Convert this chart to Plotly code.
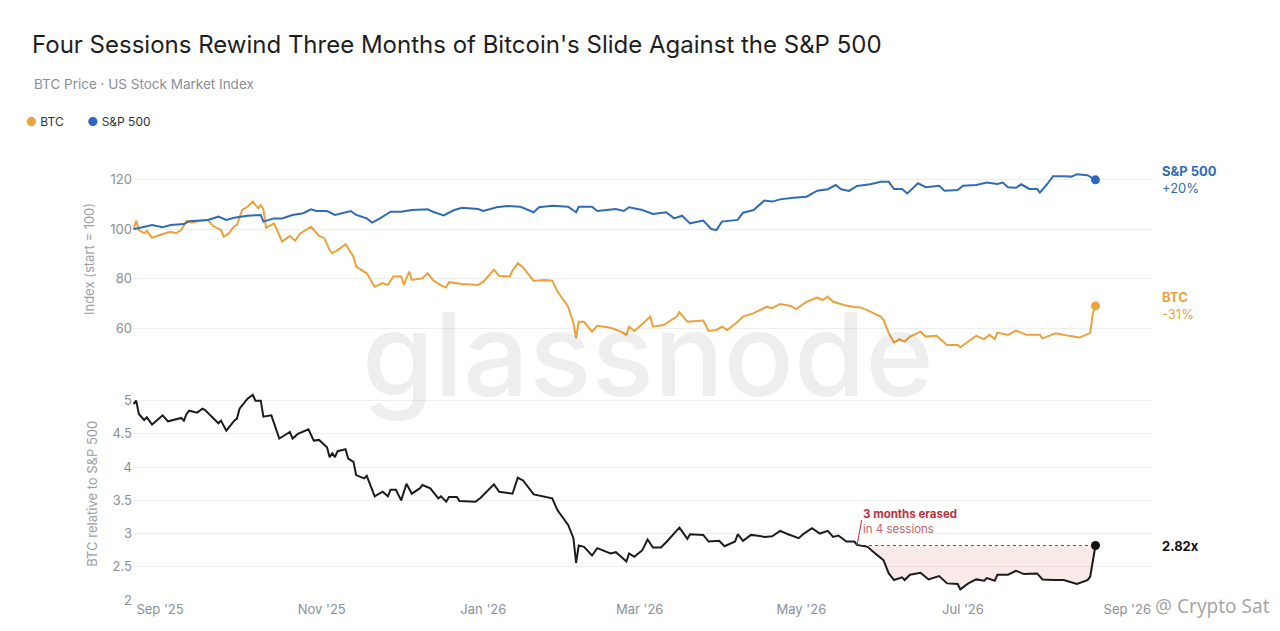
import pandas as pd
import plotly.graph_objects as go

# S&P 500, index (start = 100)
spx_dates = [
    "2025-08-22", "2025-08-26", "2025-08-29", "2025-09-02", "2025-09-05", "2025-09-10", "2025-09-12",
    "2025-09-19", "2025-09-23", "2025-09-26", "2025-09-29", "2025-10-04", "2025-10-09", "2025-10-10",
    "2025-10-14", "2025-10-17", "2025-10-21", "2025-10-25", "2025-10-28", "2025-10-30", "2025-11-03",
    "2025-11-06", "2025-11-12", "2025-11-14", "2025-11-18", "2025-11-20", "2025-11-23", "2025-11-27",
    "2025-12-01", "2025-12-05", "2025-12-11", "2025-12-13", "2025-12-17", "2025-12-21", "2025-12-24",
    "2025-12-30", "2026-01-01", "2026-01-06", "2026-01-10", "2026-01-15", "2026-01-20", "2026-01-22",
    "2026-01-27", "2026-02-02", "2026-02-05", "2026-02-06", "2026-02-11", "2026-02-13", "2026-02-18",
    "2026-02-20", "2026-02-23", "2026-02-25", "2026-03-02", "2026-03-06", "2026-03-11", "2026-03-14",
    "2026-03-17", "2026-03-20", "2026-03-25", "2026-03-28", "2026-03-30", "2026-04-01", "2026-04-07",
    "2026-04-09", "2026-04-13", "2026-04-17", "2026-04-20", "2026-04-23", "2026-04-28", "2026-05-03",
    "2026-05-07", "2026-05-11", "2026-05-14", "2026-05-16", "2026-05-19", "2026-05-22", "2026-05-27",
    "2026-05-31", "2026-06-03", "2026-06-05", "2026-06-08", "2026-06-10", "2026-06-14", "2026-06-17",
    "2026-06-22", "2026-06-24", "2026-06-29", "2026-07-01", "2026-07-06", "2026-07-10", "2026-07-14",
    "2026-07-16", "2026-07-18", "2026-07-21", "2026-07-23", "2026-07-26", "2026-07-29", "2026-07-30",
    "2026-08-02", "2026-08-04", "2026-08-08", "2026-08-11", "2026-08-13", "2026-08-17", "2026-08-20",
]
spx_values = [
    100.0, 101.0, 101.7, 100.8, 101.7, 102.1, 103.3,
    103.8, 105.1, 103.8, 104.7, 105.5, 105.8, 103.1,
    104.4, 104.4, 105.8, 106.5, 108.1, 107.4, 107.4,
    105.8, 107.4, 105.8, 104.4, 102.7, 104.4, 107.1,
    107.1, 107.8, 108.1, 107.1, 105.6, 107.8, 108.7,
    108.2, 107.4, 108.9, 109.4, 109.1, 106.9, 108.9,
    109.5, 109.1, 106.9, 109.1, 109.1, 107.4, 107.8,
    108.2, 107.4, 108.9, 107.8, 106.2, 106.9, 104.4,
    105.5, 102.4, 103.5, 100.1, 99.7, 103.1, 103.8,
    106.7, 107.8, 111.6, 111.2, 112.1, 112.8, 113.2,
    115.6, 116.2, 117.9, 116.2, 115.5, 117.5, 118.2,
    119.2, 119.2, 116.3, 116.3, 114.5, 118.6, 117.0,
    117.6, 115.6, 115.9, 117.6, 117.9, 118.9, 118.3,
    118.9, 117.0, 116.8, 118.2, 116.3, 116.3, 114.8,
    118.6, 121.5, 121.5, 121.3, 122.3, 121.9, 120.0,
]

# BTC, index (start = 100)
btc_dates = [
    "2025-08-22", "2025-08-23", "2025-08-24", "2025-08-26", "2025-08-27", "2025-08-29", "2025-09-02",
    "2025-09-05", "2025-09-07", "2025-09-09", "2025-09-11", "2025-09-13", "2025-09-16", "2025-09-19",
    "2025-09-21", "2025-09-24", "2025-09-25", "2025-09-27", "2025-09-29", "2025-09-30", "2025-10-02",
    "2025-10-04", "2025-10-06", "2025-10-08", "2025-10-09", "2025-10-10", "2025-10-11", "2025-10-14",
    "2025-10-16", "2025-10-17", "2025-10-20", "2025-10-21", "2025-10-22", "2025-10-24", "2025-10-28",
    "2025-10-31", "2025-11-02", "2025-11-04", "2025-11-05", "2025-11-07", "2025-11-10", "2025-11-13",
    "2025-11-14", "2025-11-18", "2025-11-21", "2025-11-24", "2025-11-26", "2025-11-28", "2025-12-01",
    "2025-12-02", "2025-12-04", "2025-12-05", "2025-12-09", "2025-12-11", "2025-12-13", "2025-12-16",
    "2025-12-18", "2025-12-19", "2025-12-24", "2025-12-30", "2026-01-01", "2026-01-05", "2026-01-07",
    "2026-01-11", "2026-01-12", "2026-01-14", "2026-01-16", "2026-01-20", "2026-01-24", "2026-01-27",
    "2026-01-29", "2026-02-02", "2026-02-04", "2026-02-05", "2026-02-06", "2026-02-08", "2026-02-11",
    "2026-02-13", "2026-02-18", "2026-02-22", "2026-02-24", "2026-02-25", "2026-02-27", "2026-03-02",
    "2026-03-05", "2026-03-06", "2026-03-10", "2026-03-15", "2026-03-16", "2026-03-19", "2026-03-25",
    "2026-03-27", "2026-03-30", "2026-04-01", "2026-04-03", "2026-04-07", "2026-04-09", "2026-04-13",
    "2026-04-18", "2026-04-20", "2026-04-23", "2026-04-27", "2026-04-29", "2026-05-03", "2026-05-07",
    "2026-05-09", "2026-05-11", "2026-05-13", "2026-05-17", "2026-05-21", "2026-05-23", "2026-05-26",
    "2026-05-31", "2026-06-01", "2026-06-03", "2026-06-05", "2026-06-07", "2026-06-09", "2026-06-11",
    "2026-06-15", "2026-06-17", "2026-06-21", "2026-06-25", "2026-06-29", "2026-06-30", "2026-07-03",
    "2026-07-06", "2026-07-09", "2026-07-11", "2026-07-13", "2026-07-14", "2026-07-18", "2026-07-21",
    "2026-07-25", "2026-07-30", "2026-07-31", "2026-08-05", "2026-08-10", "2026-08-14", "2026-08-18",
    "2026-08-19", "2026-08-20",
]
btc_values = [
    100.0, 103.4, 99.7, 98.4, 99.4, 96.6, 98.1,
    99.0, 98.4, 99.7, 103.4, 102.7, 103.4, 103.8,
    101.3, 99.7, 97.0, 98.4, 101.3, 101.7, 107.8,
    109.1, 111.2, 108.5, 109.8, 108.1, 100.6, 102.4,
    97.7, 95.0, 97.3, 96.4, 95.4, 98.4, 101.0,
    97.3, 96.4, 91.6, 90.3, 91.6, 94.0, 88.9,
    84.9, 82.2, 76.8, 78.2, 77.5, 80.9, 80.9,
    77.5, 82.9, 79.5, 80.2, 82.2, 79.5, 77.3,
    76.5, 78.6, 77.9, 77.5, 78.8, 83.6, 81.1,
    80.9, 83.3, 86.3, 84.6, 79.1, 79.5, 79.2,
    74.8, 68.7, 62.0, 56.0, 62.6, 62.6, 58.6,
    61.0, 60.2, 58.6, 57.3, 60.6, 58.9, 61.7,
    64.7, 60.6, 61.3, 64.7, 66.5, 62.6, 63.1,
    58.9, 59.3, 60.6, 59.3, 62.6, 64.7, 66.1,
    68.7, 68.1, 69.8, 69.0, 67.7, 70.7, 72.4,
    71.4, 72.8, 70.7, 69.4, 68.6, 68.5, 67.2,
    64.7, 63.4, 58.0, 54.2, 55.6, 54.6, 56.6,
    58.6, 56.6, 56.9, 53.2, 53.2, 52.3, 54.6,
    56.9, 55.6, 57.3, 55.6, 58.2, 57.3, 59.0,
    57.3, 57.3, 55.9, 57.9, 56.9, 56.2, 58.0,
    66.0, 69.0,
]

# BTC relative to S&P 500
ratio_dates = [
    "2025-08-22", "2025-08-23", "2025-08-24", "2025-08-26", "2025-08-27", "2025-08-29", "2025-09-02",
    "2025-09-04", "2025-09-09", "2025-09-10", "2025-09-11", "2025-09-12", "2025-09-15", "2025-09-17",
    "2025-09-18", "2025-09-23", "2025-09-24", "2025-09-26", "2025-09-29", "2025-09-30", "2025-10-01",
    "2025-10-04", "2025-10-06", "2025-10-07", "2025-10-09", "2025-10-10", "2025-10-13", "2025-10-16",
    "2025-10-18", "2025-10-20", "2025-10-21", "2025-10-23", "2025-10-27", "2025-10-29", "2025-10-31",
    "2025-11-03", "2025-11-04", "2025-11-05", "2025-11-06", "2025-11-07", "2025-11-10", "2025-11-11",
    "2025-11-13", "2025-11-14", "2025-11-17", "2025-11-18", "2025-11-21", "2025-11-24", "2025-11-26",
    "2025-11-27", "2025-11-29", "2025-12-01", "2025-12-03", "2025-12-05", "2025-12-08", "2025-12-09",
    "2025-12-12", "2025-12-15", "2025-12-16", "2025-12-18", "2025-12-19", "2025-12-22", "2025-12-23",
    "2025-12-29", "2025-12-31", "2026-01-05", "2026-01-07", "2026-01-12", "2026-01-14", "2026-01-16",
    "2026-01-20", "2026-01-24", "2026-01-27", "2026-01-29", "2026-02-02", "2026-02-04", "2026-02-05",
    "2026-02-06", "2026-02-08", "2026-02-11", "2026-02-13", "2026-02-18", "2026-02-20", "2026-02-22",
    "2026-02-24", "2026-02-25", "2026-02-27", "2026-03-02", "2026-03-04", "2026-03-06", "2026-03-09",
    "2026-03-11", "2026-03-16", "2026-03-19", "2026-03-20", "2026-03-25", "2026-03-27", "2026-03-31",
    "2026-04-02", "2026-04-06", "2026-04-07", "2026-04-09", "2026-04-12", "2026-04-14", "2026-04-17",
    "2026-04-20", "2026-04-23", "2026-04-26", "2026-04-30", "2026-05-02", "2026-05-05", "2026-05-08",
    "2026-05-11", "2026-05-13", "2026-05-15", "2026-05-18", "2026-05-21", "2026-05-22", "2026-05-26",
    "2026-05-28", "2026-06-01", "2026-06-03", "2026-06-05", "2026-06-08", "2026-06-09", "2026-06-11",
    "2026-06-15", "2026-06-18", "2026-06-22", "2026-06-25", "2026-06-29", "2026-06-30", "2026-07-03",
    "2026-07-06", "2026-07-09", "2026-07-10", "2026-07-13", "2026-07-14", "2026-07-18", "2026-07-21",
    "2026-07-24", "2026-07-29", "2026-07-31", "2026-08-04", "2026-08-08", "2026-08-13", "2026-08-17",
    "2026-08-18", "2026-08-19", "2026-08-20",
]
ratio_values = [
    4.95, 5.00, 4.80, 4.71, 4.75, 4.64, 4.78,
    4.69, 4.74, 4.70, 4.80, 4.85, 4.82, 4.88,
    4.86, 4.66, 4.70, 4.55, 4.70, 4.73, 4.88,
    5.03, 5.09, 5.00, 5.00, 4.76, 4.78, 4.43,
    4.48, 4.53, 4.43, 4.50, 4.57, 4.40, 4.41,
    4.30, 4.15, 4.21, 4.15, 4.24, 4.27, 4.13,
    4.08, 3.88, 3.83, 3.87, 3.56, 3.63, 3.56,
    3.66, 3.66, 3.50, 3.75, 3.60, 3.68, 3.73,
    3.68, 3.53, 3.56, 3.48, 3.55, 3.55, 3.49,
    3.48, 3.54, 3.74, 3.63, 3.60, 3.84, 3.80,
    3.59, 3.55, 3.53, 3.35, 3.13, 2.93, 2.56,
    2.82, 2.80, 2.67, 2.78, 2.70, 2.72, 2.65,
    2.58, 2.70, 2.65, 2.75, 2.91, 2.79, 2.79,
    2.87, 3.09, 2.92, 2.99, 2.98, 2.88, 2.89,
    2.81, 2.88, 2.99, 2.89, 2.98, 2.97, 2.95,
    2.96, 3.04, 2.99, 2.93, 3.00, 3.08, 3.00,
    3.04, 2.95, 2.97, 2.88, 2.88, 2.83, 2.80,
    2.73, 2.60, 2.40, 2.30, 2.34, 2.30, 2.38,
    2.41, 2.31, 2.36, 2.25, 2.24, 2.16, 2.25,
    2.31, 2.29, 2.33, 2.29, 2.38, 2.38, 2.44,
    2.39, 2.40, 2.31, 2.30, 2.30, 2.24, 2.30,
    2.35, 2.62, 2.82,
]

# "3 months erased" window
erase_start = "2026-05-22"
erase_level = 2.82

BTC_COLOR = "#eba23c"
SPX_COLOR = "#2f6cb5"
RED = "#b8323c"
GRAY = "#8a8f98"
FONT = "Inter"

ratio = pd.DataFrame({"date": pd.to_datetime(ratio_dates), "value": ratio_values})
erased = ratio[ratio["date"] >= pd.Timestamp(erase_start)]

fig = go.Figure()

# top panel
fig.add_trace(go.Scatter(x=btc_dates, y=btc_values, xaxis="x", yaxis="y2", mode="lines",
                         line=dict(color=BTC_COLOR, width=2), name="BTC"))
fig.add_trace(go.Scatter(x=spx_dates, y=spx_values, xaxis="x", yaxis="y2", mode="lines",
                         line=dict(color=SPX_COLOR, width=2), name="S&P 500"))
fig.add_trace(go.Scatter(x=[btc_dates[-1]], y=[btc_values[-1]], xaxis="x", yaxis="y2", mode="markers",
                         marker=dict(color=BTC_COLOR, size=9)))
fig.add_trace(go.Scatter(x=[spx_dates[-1]], y=[spx_values[-1]], xaxis="x", yaxis="y2", mode="markers",
                         marker=dict(color="#2a68c4", size=9)))

# bottom panel: shaded gap under the dashed level
fig.add_trace(go.Scatter(x=erased["date"], y=[erase_level] * len(erased), xaxis="x", yaxis="y",
                         mode="lines", line=dict(width=0), hoverinfo="skip"))
fig.add_trace(go.Scatter(x=erased["date"], y=erased["value"], xaxis="x", yaxis="y",
                         mode="lines", line=dict(width=0), fill="tonexty",
                         fillcolor="rgba(222,120,120,0.16)", hoverinfo="skip"))
fig.add_trace(go.Scatter(x=[erase_start, ratio_dates[-1]], y=[erase_level, erase_level], xaxis="x", yaxis="y",
                         mode="lines", line=dict(color=RED, width=1, dash="dot")))
fig.add_trace(go.Scatter(x=ratio_dates, y=ratio_values, xaxis="x", yaxis="y", mode="lines",
                         line=dict(color="#1c1c1c", width=2)))
fig.add_trace(go.Scatter(x=[ratio_dates[-1]], y=[ratio_values[-1]], xaxis="x", yaxis="y", mode="markers",
                         marker=dict(color="#111111", size=9)))

annotations = [
    # glassnode watermark
    dict(xref="paper", yref="paper", x=0.505, y=0.565, xanchor="center", yanchor="middle",
         text="glassnode", showarrow=False,
         font=dict(family=FONT, size=116, color="rgba(0,0,0,0.068)", weight=500)),
    dict(xref="paper", yref="paper", x=-0.0991, y=1.186, xanchor="left", yanchor="middle",
         text="BTC Price · US Stock Market Index", showarrow=False,
         font=dict(family=FONT, size=13.5, color=GRAY)),
    dict(xref="paper", yref="paper", x=-0.1071, y=1.099, xanchor="left", yanchor="middle",
         text=f"<span style='color:{BTC_COLOR}'>●</span> BTC       <span style='color:#2a68c4'>●</span> S&P 500",
         showarrow=False, font=dict(family=FONT, size=12, color="#333333")),
    dict(xref="paper", yref="y2", x=1.0079, y=spx_values[-1], xanchor="left", yanchor="middle",
         align="left", text="<b>S&P 500</b><br>+20%", showarrow=False,
         font=dict(family=FONT, size=13, color=SPX_COLOR)),
    dict(xref="paper", yref="y2", x=1.0079, y=btc_values[-1], xanchor="left", yanchor="middle",
         align="left", text="<b>BTC</b><br>-31%", showarrow=False,
         font=dict(family=FONT, size=13, color=BTC_COLOR)),
    dict(xref="paper", yref="y", x=1.0079, y=ratio_values[-1], xanchor="left", yanchor="middle",
         text="<b>2.82x</b>", showarrow=False, font=dict(family=FONT, size=13, color="#111111")),
    # leader line
    dict(xref="x", yref="y", x=erase_start, y=erase_level, text="", showarrow=True,
         arrowhead=0, arrowwidth=1, arrowcolor=RED, ax=5, ay=-27),
    dict(xref="x", yref="y", x=erase_start, y=erase_level, xshift=4, yshift=8,
         xanchor="left", yanchor="bottom", align="left", showarrow=False,
         text="<b>3 months erased</b><br><span style='color:#c0646c'>in 4 sessions</span>",
         font=dict(family=FONT, size=11.5, color=RED)),
    dict(xref="paper", yref="paper", x=1.118, y=-0.014, xanchor="right", yanchor="middle",
         text="@ Crypto Sat", showarrow=False,
         font=dict(family="Noto Sans", size=19, color="rgba(150,150,150,0.85)")),
]

# page adds an 8px body margin, so the figure is 8px smaller each way
fig.update_layout(
    width=1272, height=623,
    margin=dict(l=125, r=128, t=157, b=31),
    paper_bgcolor="white", plot_bgcolor="white",
    font=dict(family=FONT, size=13, color=GRAY),
    title=dict(text="Four Sessions Rewind Three Months of Bitcoin's Slide Against the S&P 500",
               x=0.0189, xref="container", xanchor="left", y=0.9406, yref="container", yanchor="middle",
               font=dict(family=FONT, size=24, color="#1e1e1e")),
    xaxis=dict(type="date", range=["2025-08-21 19:00", "2026-09-10 08:00"],
               tick0="2025-09-01", dtick="M2", tickformat="%b '%y",
               showgrid=False, showline=False, zeroline=False, ticks="",
               tickfont=dict(size=13, color=GRAY), anchor="y"),
    yaxis=dict(domain=[0, 0.4887], range=[2, 5.2], dtick=0.5,
               gridcolor="#eeeeee", zeroline=False, showline=False,
               title=dict(text="BTC relative to S&P 500", standoff=12, font=dict(size=13, color="#9a9ea6")),
               tickfont=dict(size=13, color=GRAY), anchor="x"),
    yaxis2=dict(domain=[0.568, 1], range=[50, 126], dtick=20,
                gridcolor="#eeeeee", zeroline=False, showline=False,
                title=dict(text="Index (start = 100)", standoff=12, font=dict(size=13, color="#9a9ea6")),
                tickfont=dict(size=13, color=GRAY), anchor="x"),
    annotations=annotations,
    showlegend=False,
)

fig.write_html("out.html")
